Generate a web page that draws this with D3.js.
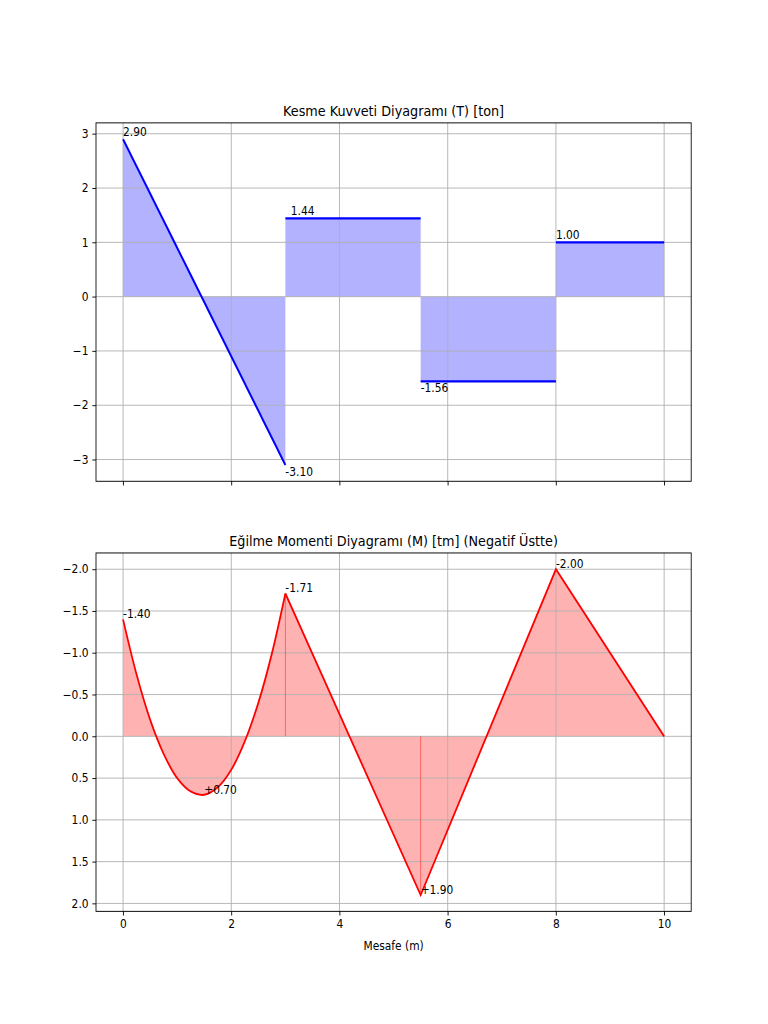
<!DOCTYPE html>
<html>
<head>
<meta charset="utf-8">
<script src="https://cdn.jsdelivr.net/npm/d3@7"></script>
<style>
  html, body { margin: 0; padding: 0; background: #fff; }
  svg { display: block; }
  text { font-family: "DejaVu Sans", sans-serif; fill: #000; }
</style>
</head>
<body>
<div id="chart"></div>
<script>
// ---------------- DATA ----------------
const xTicks = [0, 2, 4, 6, 8, 10];
const shearTicks = [-3, -2, -1, 0, 1, 2, 3];
const momentTicks = [-2.0, -1.5, -1.0, -0.5, 0.0, 0.5, 1.0, 1.5, 2.0];

// Shear force segments (x start/end, value start/end) [ton]
const shearX = [[0, 3], [3, 5.5], [5.5, 8], [8, 10]];
const shearV = [[2.90, -3.10], [1.44, 1.44], [-1.56, -1.56], [1.00, 1.00]];

// Shear labels
const shearLabelX = [0, 3, 3.1, 5.5, 8];
const shearLabelV = [2.90, -3.10, 1.44, -1.56, 1.00];
const shearLabelT = ["2.90", "-3.10", "1.44", "-1.56", "1.00"];

// Bending moment: curved part (0..3 m) [tm]
const momentCurveX = [0, 0.25, 0.5, 0.75, 1.0, 1.25, 1.5, 1.75, 2.0, 2.25, 2.5, 2.75, 3.0];
const momentCurveM = [-1.40, -0.74, -0.20, 0.21, 0.50, 0.66, 0.70, 0.61, 0.40, 0.06, -0.40, -0.99, -1.71];
// Bending moment: straight part (3..10 m)
const momentLineX = [3, 5.5, 8, 10];
const momentLineM = [-1.71, 1.90, -2.00, 0.00];
// Thin vertical markers
const momentMarkX = [3, 5.5];
const momentMarkM = [-1.71, 1.90];

// Moment labels
const momentLabelX = [0, 1.5, 3, 5.5, 8];
const momentLabelM = [-1.40, 0.70, -1.71, 1.90, -2.00];
const momentLabelT = ["-1.40", "+0.70", "-1.71", "+1.90", "-2.00"];

const shearTitle = "Kesme Kuvveti Diyagramı (T) [ton]";
const momentTitle = "Eğilme Momenti Diyagramı (M) [tm] (Negatif Üstte)";
const xLabel = "Mesafe (m)";

// ---------------- LAYOUT (figure drawn at 1000x1200, scaled into 768x1024) ----------------
const FW = 1000, FH = 1200;
const axL = 125, axR = 900;
const top1 = 144, bot1 = 564;
const top2 = 648, bot2 = 1068;
const tickLen = 4.86, tickPad = 4.86;
const fs = 13.89, tfs = 16.67;
const lw = 1.11;

const svg = d3.select("#chart").append("svg")
  .attr("width", 768).attr("height", 1024)
  .attr("viewBox", `0 0 ${FW} ${FH}`)
  .attr("preserveAspectRatio", "none");
svg.append("rect").attr("width", FW).attr("height", FH).attr("fill", "#fff");

const x = d3.scaleLinear().domain([-0.5, 10.5]).range([axL, axR]);
const y1 = d3.scaleLinear().domain([-3.4, 3.2]).range([bot1, top1]);
const y2 = d3.scaleLinear().domain([-2.195, 2.095]).range([top2, bot2]); // inverted

const minus = s => s.replace("-", "\u2212");

function drawGrid(g, y, yt, top, bot) {
  g.selectAll(".gx").data(xTicks).enter().append("line")
    .attr("x1", d => x(d)).attr("x2", d => x(d))
    .attr("y1", top).attr("y2", bot)
    .attr("stroke", "#b0b0b0").attr("stroke-width", lw);
  g.selectAll(".gy").data(yt).enter().append("line")
    .attr("x1", axL).attr("x2", axR)
    .attr("y1", d => y(d)).attr("y2", d => y(d))
    .attr("stroke", "#b0b0b0").attr("stroke-width", lw);
}

function drawAxes(g, y, yt, top, bot, yFmt, showX) {
  const ax = g.append("g").attr("transform", `translate(0,${bot})`)
    .call(d3.axisBottom(x).tickValues(xTicks).tickSize(tickLen).tickPadding(tickPad)
      .tickFormat(showX ? (d => minus(String(d))) : () => ""));
  const ay = g.append("g").attr("transform", `translate(${axL},0)`)
    .call(d3.axisLeft(y).tickValues(yt).tickSize(tickLen).tickPadding(tickPad)
      .tickFormat(d => minus(yFmt(d))));
  [ax, ay].forEach(a => {
    a.select(".domain").remove();
    a.selectAll("line").attr("stroke", "#000").attr("stroke-width", lw);
    a.selectAll("text").attr("font-size", fs).attr("font-family", "DejaVu Sans, sans-serif").attr("fill", "#000");
  });
  g.append("rect").attr("x", axL).attr("y", top).attr("width", axR - axL).attr("height", bot - top)
    .attr("fill", "none").attr("stroke", "#000").attr("stroke-width", lw);
}

// ---------------- SHEAR ----------------
const g1 = svg.append("g");
const seg1 = shearX.map((xs, i) => xs.map((xv, j) => ({ x: xv, v: shearV[i][j] })));
const area1 = d3.area().x(d => x(d.x)).y0(y1(0)).y1(d => y1(d.v));
const line1 = d3.line().x(d => x(d.x)).y(d => y1(d.v));
g1.selectAll(".a1").data(seg1).enter().append("path")
  .attr("d", area1).attr("fill", "#0000ff").attr("fill-opacity", 0.3);
drawGrid(g1, y1, shearTicks, top1, bot1);
g1.selectAll(".l1").data(seg1).enter().append("path")
  .attr("d", line1).attr("fill", "none").attr("stroke", "#0000ff").attr("stroke-width", 2.6);
shearLabelT.forEach((t, i) => {
  const v = shearLabelV[i];
  g1.append("text").attr("x", x(shearLabelX[i]))
    .attr("y", v >= 0 ? y1(v) - 3.5 : y1(v) + 12.5)
    .attr("font-size", fs).text(t);
});
drawAxes(g1, y1, shearTicks, top1, bot1, d => String(d), false);
g1.append("text").attr("x", (axL + axR) / 2).attr("y", top1 - 8.33)
  .attr("text-anchor", "middle").attr("font-size", tfs).text(shearTitle);

// ---------------- MOMENT ----------------
const g2 = svg.append("g");
const curvePts = momentCurveX.map((xv, i) => ({ x: xv, m: momentCurveM[i] }));
const linePts = momentLineX.map((xv, i) => ({ x: xv, m: momentLineM[i] }));
const area2c = d3.area().x(d => x(d.x)).y0(y2(0)).y1(d => y2(d.m)).curve(d3.curveCatmullRom);
const area2l = d3.area().x(d => x(d.x)).y0(y2(0)).y1(d => y2(d.m));
g2.append("path").datum(curvePts).attr("d", area2c).attr("fill", "#ff0000").attr("fill-opacity", 0.3);
g2.append("path").datum(linePts).attr("d", area2l).attr("fill", "#ff0000").attr("fill-opacity", 0.3);
drawGrid(g2, y2, momentTicks, top2, bot2);
g2.selectAll(".mk").data(momentMarkX).enter().append("line")
  .attr("x1", d => x(d)).attr("x2", d => x(d))
  .attr("y1", y2(0)).attr("y2", (d, i) => y2(momentMarkM[i]))
  .attr("stroke", "#ff0000").attr("stroke-opacity", 0.5).attr("stroke-width", 1.1);
const line2c = d3.line().x(d => x(d.x)).y(d => y2(d.m)).curve(d3.curveCatmullRom);
const line2l = d3.line().x(d => x(d.x)).y(d => y2(d.m));
g2.append("path").datum(curvePts).attr("d", line2c).attr("fill", "none").attr("stroke", "#ff0000").attr("stroke-width", 2.3);
g2.append("path").datum(linePts).attr("d", line2l).attr("fill", "none").attr("stroke", "#ff0000").attr("stroke-width", 2.3);
momentLabelT.forEach((t, i) => {
  g2.append("text").attr("x", x(momentLabelX[i]))
    .attr("y", y2(momentLabelM[i]) - 1.2)
    .attr("font-size", fs).text(t);
});
drawAxes(g2, y2, momentTicks, top2, bot2, d => d3.format(".1f")(d), true);
g2.append("text").attr("x", (axL + axR) / 2).attr("y", top2 - 8.33)
  .attr("text-anchor", "middle").attr("font-size", tfs).text(momentTitle);
g2.append("text").attr("x", (axL + axR) / 2).attr("y", 1113.5)
  .attr("text-anchor", "middle").attr("font-size", fs).text(xLabel);
</script>
</body>
</html>
